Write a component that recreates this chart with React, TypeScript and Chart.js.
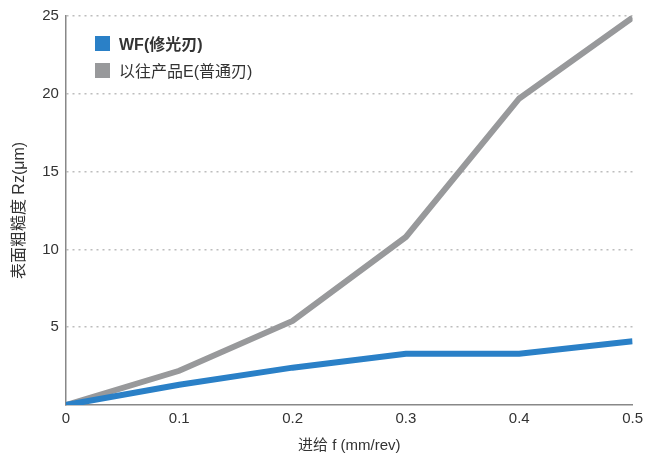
import React, { useEffect, useRef } from "react";
import { Chart, registerables } from "chart.js";

Chart.register(...registerables);

const feeds = [0, 0.1, 0.2, 0.3, 0.4, 0.5];
const wfValues = [0, 1.3, 2.4, 3.3, 3.3, 4.1];
const conventionalValues = [0, 2.2, 5.4, 10.8, 19.7, 24.9];
const wfLabel = "WF(修光刃)";
const conventionalLabel = "以往产品E(普通刃)";
const xTitle = "进给 f (mm/rev)";
const yTitle = "表面粗糙度 Rz(μm)";

const BLUE = "#2a80c7";
const GRAY = "#98999b";
const FONT = "'Liberation Sans', Arial, 'Noto Sans CJK SC', sans-serif";

export default function App() {
  const ref = useRef<HTMLCanvasElement | null>(null);
  useEffect(() => {
    if (!ref.current) return;
    const chart = new Chart(ref.current, {
      type: "line",
      data: {
        datasets: [
          {
            label: wfLabel,
            data: feeds.map((x, i) => ({ x, y: wfValues[i] })),
            borderColor: BLUE,
            backgroundColor: BLUE,
            borderWidth: 6,
            pointRadius: 0,
            tension: 0,
          },
          {
            label: conventionalLabel,
            data: feeds.map((x, i) => ({ x, y: conventionalValues[i] })),
            borderColor: GRAY,
            backgroundColor: GRAY,
            borderWidth: 6,
            pointRadius: 0,
            tension: 0,
          },
        ],
      },
      options: {
        animation: false,
        responsive: false,
        layout: { padding: { top: 7, right: 0, left: 10, bottom: 4 } },
        plugins: { legend: { display: false }, tooltip: { enabled: false } },
        scales: {
          x: {
            type: "linear",
            min: 0,
            max: 0.5,
            ticks: {
              stepSize: 0.1,
              color: "#333",
              font: { family: FONT, size: 15 },
              padding: 5,
              callback: (v: any) => String(Math.round(Number(v) * 10) / 10),
            },
            grid: { display: false, drawTicks: false },
            border: { display: true, color: "#888", width: 1.5 },
            title: {
              display: true,
              text: xTitle,
              color: "#333",
              font: { family: FONT, size: 15 },
              padding: { top: 4, bottom: 0 },
            },
          },
          y: {
            min: 0,
            max: 25,
            ticks: {
              stepSize: 5,
              color: "#333",
              font: { family: FONT, size: 15 },
              padding: 7,
              callback: (v: any) => (Number(v) === 0 ? "" : String(v)),
            },
            grid: {
              color: (ctx: any) => (ctx.tick && ctx.tick.value === 0 ? "rgba(0,0,0,0)" : "#bdbdbd"),
              lineWidth: 1.5,
              drawTicks: false,
            },
            border: { display: true, color: "#888", width: 1.5, dash: [2, 4] },
            title: {
              display: true,
              text: yTitle,
              color: "#333",
              font: { family: FONT, size: 16 },
              padding: { top: 0, bottom: 6 },
            },
          },
        },
      },
    });
    return () => chart.destroy();
  }, []);

  const itemStyle: React.CSSProperties = {
    position: "absolute",
    left: 95,
    display: "flex",
    alignItems: "center",
    fontFamily: FONT,
    fontSize: 16,
    color: "#333",
    whiteSpace: "nowrap",
  };
  const box = (c: string): React.CSSProperties => ({
    width: 15,
    height: 15,
    background: c,
    marginRight: 9,
  });

  return (
    <div style={{ position: "fixed", left: 0, top: 0, width: 648, height: 459, background: "#fff" }}>
      <canvas ref={ref} width={648} height={459} style={{ display: "block" }} />
      <div style={{ ...itemStyle, top: 31, fontWeight: "bold" }}>
        <span style={box(BLUE)} />
        <span>{wfLabel}</span>
      </div>
      <div style={{ ...itemStyle, top: 58 }}>
        <span style={box(GRAY)} />
        <span>{conventionalLabel}</span>
      </div>
    </div>
  );
}
